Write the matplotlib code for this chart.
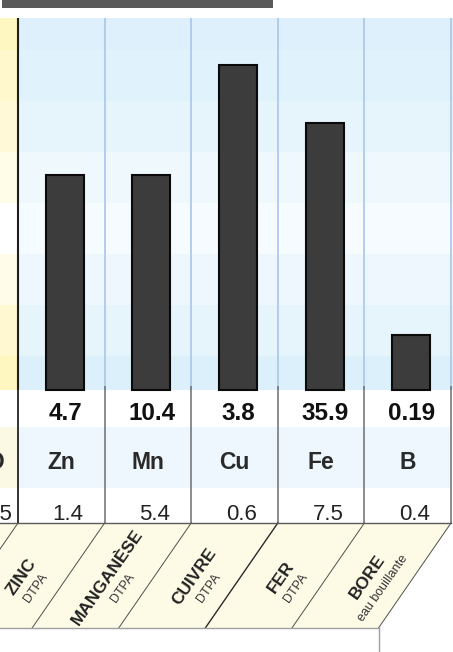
import matplotlib
matplotlib.use('Agg')
import matplotlib.pyplot as plt
from matplotlib.patches import Rectangle, Polygon
import numpy as np

plt.rcParams['font.family'] = ['Liberation Sans', 'DejaVu Sans']

# ---------------- data ----------------
symbols = ['Zn', 'Mn', 'Cu', 'Fe', 'B']
results = ['4.7', '10.4', '3.8', '35.9', '0.19']
references = ['1.4', '5.4', '0.6', '7.5', '0.4']
names = ['ZINC', 'MANGANÈSE', 'CUIVRE', 'FER', 'BORE']
methods = ['DTPA', 'DTPA', 'DTPA', 'DTPA', 'eau bouillante']
index_level = [57.8, 57.8, 87.4, 71.8, 14.8]   # bar height on a 0-100 index scale
prev_symbol = 'MO'        # partially visible previous column
prev_reference = '2.5'

band_edges = [0, 9.1, 22.8, 36.6, 50.3, 64.0, 77.7, 91.4, 100]
band_blue = ['#dcf0fb', '#e6f4fc', '#eef7fd', '#f5fbfe',
             '#eff8fd', '#e6f4fc', '#e0f2fc', '#ddf0fc']
band_yellow = ['#fff6c0', '#fff8d0', '#fffce9', '#ffffff',
               '#fffce8', '#fff9d8', '#fff8cc', '#fff7c2']

# ---------------- layout ----------------
W, H = 453, 652
COLW = 86.6                      # column width in px
X0 = -0.5 - 18 / COLW            # left limit in column units
X1 = X0 + W / COLW
SLANT = 72.5 / COLW              # horizontal shift of diagonals over label band

fig = plt.figure(figsize=(W / 100, H / 100), dpi=100)
fig.patch.set_facecolor('white')

# top dark title bar (cropped)
fig.add_artist(Rectangle((2 / W, 1 - 8 / H), 271 / W, 8 / H,
                         transform=fig.transFigure, color='#5a5a5a', lw=0))

# main plot axes: from px 18 to 390
ax = fig.add_axes([0, 1 - 390 / H, 1, 372 / H])
ax.set_xlim(X0, X1)
ax.set_ylim(0, 100)
ax.axis('off')

for k in range(len(band_blue)):
    y0, y1 = band_edges[k], band_edges[k + 1]
    ax.add_patch(Rectangle((-0.5, y0), X1 + 0.5, y1 - y0, color=band_blue[k], lw=0, zorder=0))
    ax.add_patch(Rectangle((X0 - 0.1, y0), -0.5 - X0 + 0.1, y1 - y0, color=band_yellow[k], lw=0, zorder=0))

n = len(symbols)
xs = np.arange(n)
ax.vlines(np.arange(n) + 0.5, 0, 100, color='#a9c6ea', lw=1.2, zorder=1)
ax.vlines([-0.5], 0, 100, color='#1e1e1e', lw=1.5, zorder=4)

ax.bar(xs + 0.04, index_level, width=0.44, color='#3c3c3c',
       edgecolor='#0a0a0a', linewidth=1.5, zorder=3, clip_on=False)

# table + label band axes: y in pixel rows (390 -> 652)
tab = fig.add_axes([0, 0, 1, (H - 390) / H])
tab.set_xlim(X0, X1)
tab.set_ylim(H, 390)
tab.axis('off')

# symbol row background
tab.add_patch(Rectangle((-0.5, 427), n, 61, color='#eef7fd', lw=0, zorder=0))
tab.add_patch(Rectangle((X0 - 0.1, 427), -0.5 - X0 + 0.1, 61, color='#fbf8e4', lw=0, zorder=0))

# label band fill
tab.add_patch(Polygon([(X0 - 2, 523), (n - 0.5, 523), (n - 0.5 - SLANT, 628), (X0 - 2, 628)],
                      closed=True, facecolor='#fdfae6', edgecolor='none', zorder=0))

# table vertical lines
bounds = np.arange(-1, n) + 0.5
for b in bounds:
    col = '#222222' if b == -0.5 else '#6e6e6e'
    tab.plot([b, b], [386, 523], color=col, lw=1.3 if b == -0.5 else 1.1,
             zorder=2, clip_on=False, solid_capstyle='butt')
    # diagonals in label band
    tab.plot([b, b - SLANT], [523, 628], color='#2a2a2a' if b == 2.5 else '#505050',
             lw=1.0 if b == 2.5 else 0.7, zorder=2)

tab.plot([X0 - 1, n - 0.5], [523, 523], color='#5a5a5a', lw=1.0, zorder=2)
tab.plot([X0 - 1, n - 0.5 - SLANT], [628, 628], color='#a0a0a0', lw=1.0, zorder=2)
tab.plot([n - 0.5 - SLANT] * 2, [628, H + 5], color='#a0a0a0', lw=1.0, zorder=2)

# row texts
for i in range(n):
    tab.text(i + 0.05, 420, results[i], ha='center', va='baseline',
             fontsize=17.5, fontweight='bold', color='#111111')
    tab.text(i, 469, symbols[i], ha='center', va='baseline',
             fontsize=16.5, fontweight='bold', color='#2a2a2a')
    tab.text(i + 0.08, 520.5, references[i], ha='center', va='baseline',
             fontsize=16, color='#222222')

tab.text(-0.5 - 12.5 / COLW, 469, prev_symbol, ha='right', va='baseline',
         fontsize=16.5, fontweight='bold', color='#2a2a2a')
tab.text(-0.5 - 5.3 / COLW, 520.5, prev_reference, ha='right', va='baseline',
         fontsize=16, color='#222222')

# slanted labels
ANG = 55
for i in range(n):
    cx = i - SLANT / 2
    cy = 575.5
    tab.text(cx - 4 / COLW, cy + 1.5, names[i], rotation=ANG, rotation_mode='anchor',
             ha='center', va='center', fontsize=12.5, fontweight='bold', color='#222222')
    tab.text(cx + 11 / COLW, cy + 12.5, methods[i], rotation=ANG, rotation_mode='anchor',
             ha='center', va='center', fontsize=9, color='#333333')

fig.savefig('out.png', dpi=100)
